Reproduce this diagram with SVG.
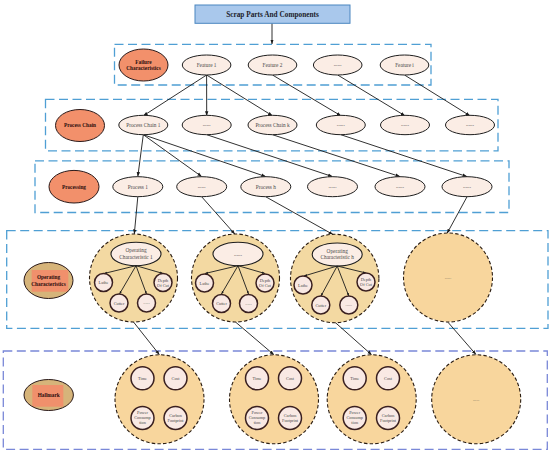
<svg xmlns="http://www.w3.org/2000/svg" width="550" height="454" viewBox="0 0 550 454">
<style>
.band{fill:none;stroke:#4f9fd4;stroke-width:1.3;stroke-dasharray:9 4.5}
.band2{fill:none;stroke:#7a88d8;stroke-width:1.3;stroke-dasharray:9 4.5}
.lab{fill:#f2906b;stroke:#2a1a1a;stroke-width:1}
.node{fill:#fbede5;stroke:#1e1e1e;stroke-width:1}
.big{fill:#f3d9a2;stroke:#2b1d12;stroke-width:1.1;stroke-dasharray:3.5 2.2}
.big4{fill:#f8d69d;stroke:#2b1d12;stroke-width:1.1;stroke-dasharray:3.5 2.2}
.small{fill:#f9e9e4;stroke:#3a2020;stroke-width:1.5}
.inner{fill:#fbede5;stroke:#1e1e1e;stroke-width:1.1}
.t{font-family:"Liberation Serif","Times New Roman",serif;text-anchor:middle;fill:#4a4a4a}
.tb{font-family:"Liberation Serif","Times New Roman",serif;text-anchor:middle;font-weight:bold;fill:#2a0c0c}
.f55{font-size:5.3px}
.f45{font-size:4.3px}
.con line{stroke:#1a1a1a;stroke-width:0.9;fill:none;marker-end:url(#ah)}
.fan line{stroke:#1a1a1a;stroke-width:0.9;marker-end:url(#ah2)}
</style>
<defs>
<marker id="ah" viewBox="0 0 10 10" refX="10" refY="5" markerWidth="4.5" markerHeight="4.5" orient="auto" markerUnits="userSpaceOnUse"><path d="M0,1.2 L10,5 L0,8.8 z" fill="#1a1a1a"/></marker>
<marker id="ah2" viewBox="0 0 10 10" refX="10" refY="5" markerWidth="3" markerHeight="3" orient="auto" markerUnits="userSpaceOnUse"><path d="M0,1.2 L10,5 L0,8.8 z" fill="#1a1a1a"/></marker>
<clipPath id="cOp"><ellipse cx="48.5" cy="280.5" rx="24.5" ry="18"/></clipPath>
<clipPath id="cHm"><ellipse cx="48.7" cy="395" rx="24.7" ry="15.5"/></clipPath>
</defs>

<!-- bands -->
<rect class="band" x="114.5" y="44.3" width="316.5" height="40.7"/>
<rect class="band" x="45.5" y="99.3" width="452.5" height="51.5"/>
<rect class="band" x="35" y="160.8" width="474" height="51.7"/>
<rect class="band" x="6.7" y="230.7" width="541.3" height="97.6"/>
<rect class="band2" x="3.3" y="351" width="544" height="98.3"/>

<!-- connectors -->
<g id="connectors" class="con">
<line x1="272" y1="23.3" x2="272" y2="44"/>
<line x1="206.6" y1="75" x2="143.3" y2="115.8"/>
<line x1="206.6" y1="75" x2="206.7" y2="115.8"/>
<line x1="206.6" y1="75" x2="272.5" y2="115.8"/>
<line x1="272.5" y1="75" x2="341" y2="115.8"/>
<line x1="337.7" y1="75" x2="405" y2="115.8"/>
<line x1="404.5" y1="75" x2="470" y2="115.8"/>
<line x1="143.3" y1="134.7" x2="137.8" y2="176.6"/>
<line x1="143.3" y1="134.7" x2="201.7" y2="176.6"/>
<line x1="143.3" y1="134.7" x2="265.8" y2="176.6"/>
<line x1="206.7" y1="134.7" x2="332.5" y2="176.6"/>
<line x1="272.5" y1="134.7" x2="400" y2="176.6"/>
<line x1="340.8" y1="134.7" x2="467" y2="176.6"/>
<line x1="137.8" y1="196.8" x2="134.3" y2="234"/>
<line x1="201.7" y1="196.8" x2="235" y2="234.3"/>
<line x1="265.8" y1="196.8" x2="333" y2="234.5"/>
<line x1="467" y1="196.8" x2="447" y2="233.5"/>
<line x1="133.5" y1="322" x2="159.5" y2="354.8"/>
<line x1="235.5" y1="322" x2="274" y2="354.8"/>
<line x1="334.7" y1="322" x2="371.7" y2="354.8"/>
<line x1="448" y1="322.3" x2="476" y2="354.5"/>
</g>

<!-- top -->
<g id="root">
<rect x="195" y="5" width="155" height="18.3" fill="#a9c8ec" stroke="#4a86c0" stroke-width="1"/>
<text class="tb" x="272.5" y="16.7" style="font-size:7.3px;fill:#1c1c2a">Scrap Parts And Components</text>
</g>

<!-- failure row -->
<g id="failure-label"><ellipse class="lab" cx="143.5" cy="65" rx="24.5" ry="16"/><text class="tb f55" x="143.5" y="63.5">Failure</text><text class="tb f55" x="143.5" y="70">Characteristics</text></g>
<g id="feature-1"><ellipse class="node" cx="206.6" cy="65" rx="24.3" ry="10"/><text class="t f55" x="206.6" y="66.8">Feature 1</text></g>
<g id="feature-2"><ellipse class="node" cx="272.5" cy="65" rx="24.3" ry="10"/><text class="t f55" x="272.5" y="66.8">Feature 2</text></g>
<g id="feature-dots"><ellipse class="node" cx="337.7" cy="65" rx="24.3" ry="10"/><text class="t f55" x="337.7" y="66.3">......</text></g>
<g id="feature-i"><ellipse class="node" cx="404.5" cy="65" rx="24.3" ry="10"/><text class="t f55" x="404.5" y="66.8">Feature i</text></g>

<!-- process chain row -->
<g id="pc-label"><ellipse class="lab" cx="80" cy="125.5" rx="24.5" ry="16"/><text class="tb f55" x="80" y="127.3">Process Chain</text></g>
<g id="pc-1"><ellipse class="node" cx="143.3" cy="125" rx="24.5" ry="9.7"/><text class="t f55" x="143.3" y="126.8">Process Chain 1</text></g>
<g id="pc-dots1"><ellipse class="node" cx="206.7" cy="125" rx="24.5" ry="9.7"/><text class="t f55" x="206.7" y="126.3">......</text></g>
<g id="pc-k"><ellipse class="node" cx="272.5" cy="125" rx="24.5" ry="9.7"/><text class="t f55" x="272.5" y="126.8">Process Chain k</text></g>
<g id="pc-dots2"><ellipse class="node" cx="340.8" cy="125" rx="24.5" ry="9.7"/><text class="t f55" x="340.8" y="126.3">......</text></g>
<g id="pc-dots3"><ellipse class="node" cx="405" cy="125" rx="24.5" ry="9.7"/><text class="t f55" x="405" y="126.3">......</text></g>
<g id="pc-dots4"><ellipse class="node" cx="470" cy="125" rx="24.5" ry="9.7"/><text class="t f55" x="470" y="126.3">......</text></g>

<!-- processing row -->
<g id="proc-label"><ellipse class="lab" cx="74" cy="186.7" rx="25" ry="16.3"/><text class="tb f55" x="74" y="188.5">Processing</text></g>
<g id="proc-1"><ellipse class="node" cx="137.8" cy="186.7" rx="25" ry="10"/><text class="t f55" x="137.8" y="188.5">Process 1</text></g>
<g id="proc-dots1"><ellipse class="node" cx="201.7" cy="186.7" rx="25" ry="10"/><text class="t f55" x="201.7" y="188">......</text></g>
<g id="proc-h"><ellipse class="node" cx="265.8" cy="186.7" rx="25" ry="10"/><text class="t f55" x="265.8" y="188.5">Process h</text></g>
<g id="proc-dots2"><ellipse class="node" cx="332.5" cy="186.7" rx="25" ry="10"/><text class="t f55" x="332.5" y="188">......</text></g>
<g id="proc-dots3"><ellipse class="node" cx="400" cy="186.7" rx="25" ry="10"/><text class="t f55" x="400" y="188">......</text></g>
<g id="proc-dots4"><ellipse class="node" cx="467" cy="186.7" rx="25" ry="10"/><text class="t f55" x="467" y="188">......</text></g>

<!-- operating characteristics row -->
<g id="op-label">
<ellipse cx="48.5" cy="280.5" rx="24.5" ry="18" fill="#d6b47a"/>
<rect x="31.7" y="270" width="36.6" height="21.7" fill="#f0906c" clip-path="url(#cOp)"/>
<ellipse cx="48.5" cy="280.5" rx="24.5" ry="18" fill="none" stroke="#2a1a1a" stroke-width="1"/>
<text class="tb f55" x="48.5" y="278.8">Operating</text><text class="tb f55" x="48.5" y="285.5">Characteristics</text>
</g>

<g id="op-1">
<circle class="big" cx="133.5" cy="278" r="44"/>
<ellipse class="inner" cx="136" cy="254" rx="25" ry="11.7"/>
<text class="t f55" x="136" y="252">Operating</text><text class="t f55" x="136" y="258.5">Characteristic 1</text>
<g class="fan"><line x1="136" y1="265.7" x2="104" y2="273.5"/><line x1="136" y1="265.7" x2="119.5" y2="294"/><line x1="136" y1="265.7" x2="146.5" y2="294"/><line x1="136" y1="265.7" x2="163" y2="273.5"/></g>
<circle class="small" cx="103.5" cy="282.5" r="9"/><text class="t f45" x="103.5" y="284">Lathe</text>
<circle class="small" cx="163" cy="282.5" r="9"/><text class="t f45" x="163" y="281.5">Depth</text><text class="t f45" x="163" y="286.5">Of Cut</text>
<circle class="small" cx="119" cy="303" r="9"/><text class="t f45" x="119" y="304.5">Cutter</text>
<circle class="small" cx="146.5" cy="303" r="9"/><text class="t f45" x="146.5" y="304">......</text>
</g>

<g id="op-2">
<circle class="big" cx="235.5" cy="278" r="44"/>
<ellipse class="inner" cx="238" cy="254" rx="25" ry="11.7"/>
<text class="t f55" x="238" y="255.5">......</text>
<g class="fan"><line x1="238" y1="265.7" x2="205" y2="273.5"/><line x1="238" y1="265.7" x2="221.5" y2="294"/><line x1="238" y1="265.7" x2="248.5" y2="294"/><line x1="238" y1="265.7" x2="265" y2="273.5"/></g>
<circle class="small" cx="204.5" cy="283" r="9"/><text class="t f45" x="204.5" y="284.5">Lathe</text>
<circle class="small" cx="265" cy="283" r="9"/><text class="t f45" x="265" y="282">Depth</text><text class="t f45" x="265" y="287">Of Cut</text>
<circle class="small" cx="221.5" cy="303.5" r="9"/><text class="t f45" x="221.5" y="305">Cutter</text>
<circle class="small" cx="248.5" cy="303.5" r="9"/><text class="t f45" x="248.5" y="304.5">......</text>
</g>

<g id="op-3">
<circle class="big" cx="334.7" cy="278.5" r="44.2"/>
<ellipse class="inner" cx="337.2" cy="254.5" rx="25" ry="11.5"/>
<text class="t f55" x="337.2" y="252.5">Operating</text><text class="t f55" x="337.2" y="259">Characteristic h</text>
<g class="fan"><line x1="337.2" y1="266" x2="304" y2="276"/><line x1="337.2" y1="266" x2="321" y2="296"/><line x1="337.2" y1="266" x2="348.8" y2="296"/><line x1="337.2" y1="266" x2="366" y2="273"/></g>
<circle class="small" cx="303" cy="285" r="9"/><text class="t f45" x="303" y="286.5">Lathe</text>
<circle class="small" cx="366" cy="282" r="9"/><text class="t f45" x="366" y="281">Depth</text><text class="t f45" x="366" y="286">Of Cut</text>
<circle class="small" cx="320.8" cy="305" r="9"/><text class="t f45" x="320.8" y="306.5">Cutter</text>
<circle class="small" cx="348.8" cy="305" r="9"/><text class="t f45" x="348.8" y="306">......</text>
</g>

<g id="op-4">
<circle class="big4" cx="448" cy="277.5" r="44.5"/>
<text class="t f45" x="448" y="279" style="fill:#444">......</text>
</g>

<!-- hallmark row -->
<g id="hallmark-label">
<ellipse cx="48.7" cy="395" rx="24.7" ry="15.5" fill="#d6b47a"/>
<rect x="32.3" y="385" width="31" height="21.7" fill="#f0906c" clip-path="url(#cHm)"/>
<ellipse cx="48.7" cy="395" rx="24.7" ry="15.5" fill="none" stroke="#2a1a1a" stroke-width="1"/>
<text class="tb f55" x="48.7" y="396.8">Hallmark</text>
</g>

<g id="hm-1">
<circle class="big4" cx="159.5" cy="399.3" r="44.5"/>
<circle class="small" cx="142.5" cy="378.3" r="11.5"/><text class="t f45" x="142.5" y="379.8">Time</text>
<circle class="small" cx="175.5" cy="378.3" r="11.5"/><text class="t f45" x="175.5" y="379.8">Cost</text>
<circle class="small" cx="142.5" cy="418" r="11.5"/><text class="t f45" x="142.5" y="413.5">Power</text><text class="t f45" x="142.5" y="418.5">Consump</text><text class="t f45" x="142.5" y="423.5">tion</text>
<circle class="small" cx="175.5" cy="418" r="11.5"/><text class="t f45" x="175.5" y="416.5">Carbon</text><text class="t f45" x="175.5" y="421.5">Footprint</text>
</g>

<g id="hm-2">
<circle class="big4" cx="274" cy="399.3" r="44.5"/>
<circle class="small" cx="257" cy="378.3" r="11.5"/><text class="t f45" x="257" y="379.8">Time</text>
<circle class="small" cx="290" cy="378.3" r="11.5"/><text class="t f45" x="290" y="379.8">Cost</text>
<circle class="small" cx="257" cy="418" r="11.5"/><text class="t f45" x="257" y="413.5">Power</text><text class="t f45" x="257" y="418.5">Consump</text><text class="t f45" x="257" y="423.5">tion</text>
<circle class="small" cx="290" cy="418" r="11.5"/><text class="t f45" x="290" y="416.5">Carbon</text><text class="t f45" x="290" y="421.5">Footprint</text>
</g>

<g id="hm-3">
<circle class="big4" cx="371.7" cy="399.3" r="44.5"/>
<circle class="small" cx="354.7" cy="378.3" r="11.5"/><text class="t f45" x="354.7" y="379.8">Time</text>
<circle class="small" cx="388" cy="378.3" r="11.5"/><text class="t f45" x="388" y="379.8">Cost</text>
<circle class="small" cx="354.7" cy="418" r="11.5"/><text class="t f45" x="354.7" y="413.5">Power</text><text class="t f45" x="354.7" y="418.5">Consump</text><text class="t f45" x="354.7" y="423.5">tion</text>
<circle class="small" cx="388" cy="418" r="11.5"/><text class="t f45" x="388" y="416.5">Carbon</text><text class="t f45" x="388" y="421.5">Footprint</text>
</g>

<g id="hm-4">
<circle class="big4" cx="476.2" cy="399.3" r="44.5"/>
<text class="t f45" x="476.2" y="400.8" style="fill:#444">......</text>
</g>
</svg>
